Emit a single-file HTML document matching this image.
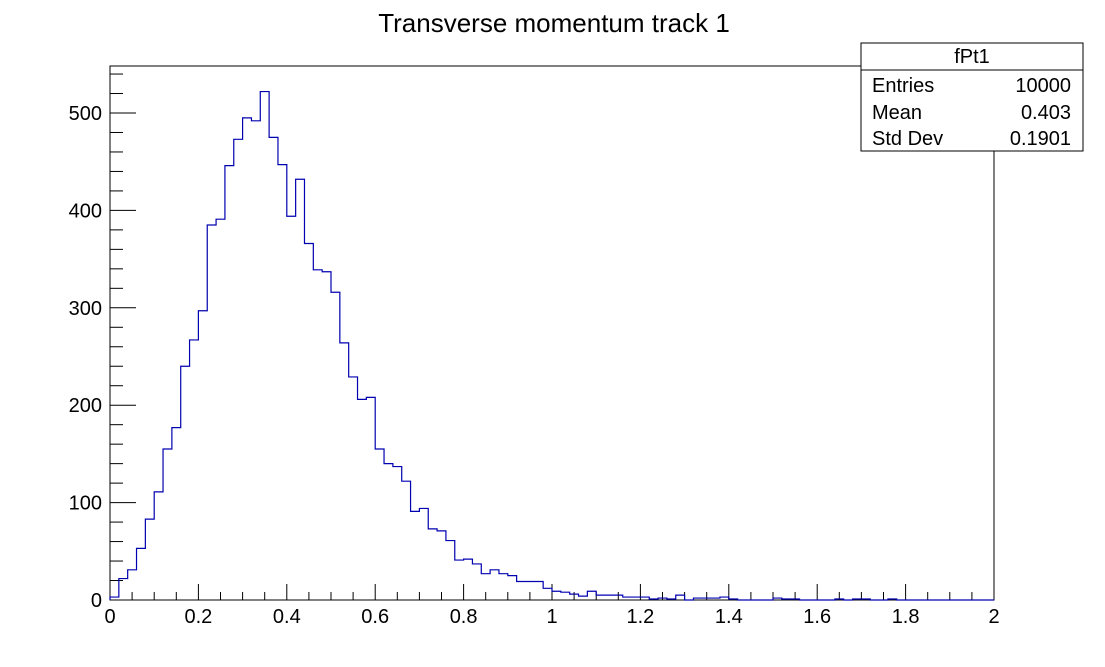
<!DOCTYPE html>
<html><head><meta charset="utf-8"><style>
body{margin:0;background:#fff;}
svg{display:block;font-family:"Liberation Sans",sans-serif;}
</style></head><body>
<svg id="c" width="1105" height="667">
<rect width="1105" height="667" fill="#fff"/>
<text x="554" y="32" font-size="26" text-anchor="middle">Transverse momentum track 1</text>
<rect x="110" y="66" width="884" height="534" fill="none" stroke="#000" stroke-width="1"/>
<g id="axes"></g>
<path id="hist" fill="none" stroke="#0000b0" stroke-width="1.2"/>
<g>
<rect x="861" y="43" width="222" height="108" fill="#fff" stroke="#000"/>
<line x1="861" y1="70" x2="1083" y2="70" stroke="#000"/>
<text x="972" y="63" font-size="20" text-anchor="middle">fPt1</text>
<text x="872" y="92" font-size="20">Entries</text>
<text x="1071" y="92" font-size="20" text-anchor="end">10000</text>
<text x="872" y="119" font-size="20">Mean</text>
<text x="1071" y="119" font-size="20" text-anchor="end">0.403</text>
<text x="872" y="145" font-size="20">Std Dev</text>
<text x="1071" y="145" font-size="20" text-anchor="end">0.1901</text>
</g>
</svg>
<script>
const counts=[3,22,31,53,83,111,155,177,240,267,297,385,391,446,473,495,492,522,475,447,
394,432,366,339,337,316,264,229,206,208,155,140,137,122,91,94,73,71,61,41,
42,37,27,31,27,25,19,19,19,12,9,8,6,4,9,5,5,5,3,3,
3,1,2,1,5,0,2,2,2,3,1,0,0,0,0,2,1,1,0,0,
0,0,1,0,1,1,0,0,1,0,0,0,0,0,0,0,0,0,0,0];
const xTicks=[0,0.2,0.4,0.6,0.8,1,1.2,1.4,1.6,1.8,2];
const xTickLabels=["0","0.2","0.4","0.6","0.8","1","1.2","1.4","1.6","1.8","2"];
const yTicks=[0,100,200,300,400,500];
const yTickLabels=["0","100","200","300","400","500"];
const xMin=0,xMax=2;
const X=v=>110+(v-xMin)/(xMax-xMin)*884;
const Y=v=>600-v*0.974;
const ns="http://www.w3.org/2000/svg";
const ax=document.getElementById('axes');
function ln(x1,y1,x2,y2){const l=document.createElementNS(ns,'line');l.setAttribute('x1',x1);l.setAttribute('y1',y1);l.setAttribute('x2',x2);l.setAttribute('y2',y2);l.setAttribute('stroke','#000');ax.appendChild(l);return l;}
function tx(x,y,s,anc){const t=document.createElementNS(ns,'text');t.setAttribute('x',x);t.setAttribute('y',y);t.setAttribute('font-size','20');t.setAttribute('text-anchor',anc);t.textContent=s;ax.appendChild(t);return t;}
for(let i=0;i<=40;i++){const v=i*0.05;const x=X(v);const major=i%4===0;
 const l=ln(x,600,x,major?584:592);
 
 }
xTicks.forEach((v,i)=>{const t=tx(X(v),623,xTickLabels[i],'middle');
 
 });
for(let v=0;v<=550;v+=20){const major=v%100===0;const l=ln(110,Y(v),major?136:123,Y(v));
 
 }
yTicks.forEach((v,i)=>{const t=tx(102,Y(v)+7,yTickLabels[i],'end');
 
 });
const bw=(xMax-xMin)/counts.length;
let d='M'+X(0)+','+Y(0);
counts.forEach((c,i)=>{d+=' L'+X(i*bw)+','+Y(c)+' L'+X((i+1)*bw)+','+Y(c);});
document.getElementById('hist').setAttribute('d',d);
</script>
</body></html>
